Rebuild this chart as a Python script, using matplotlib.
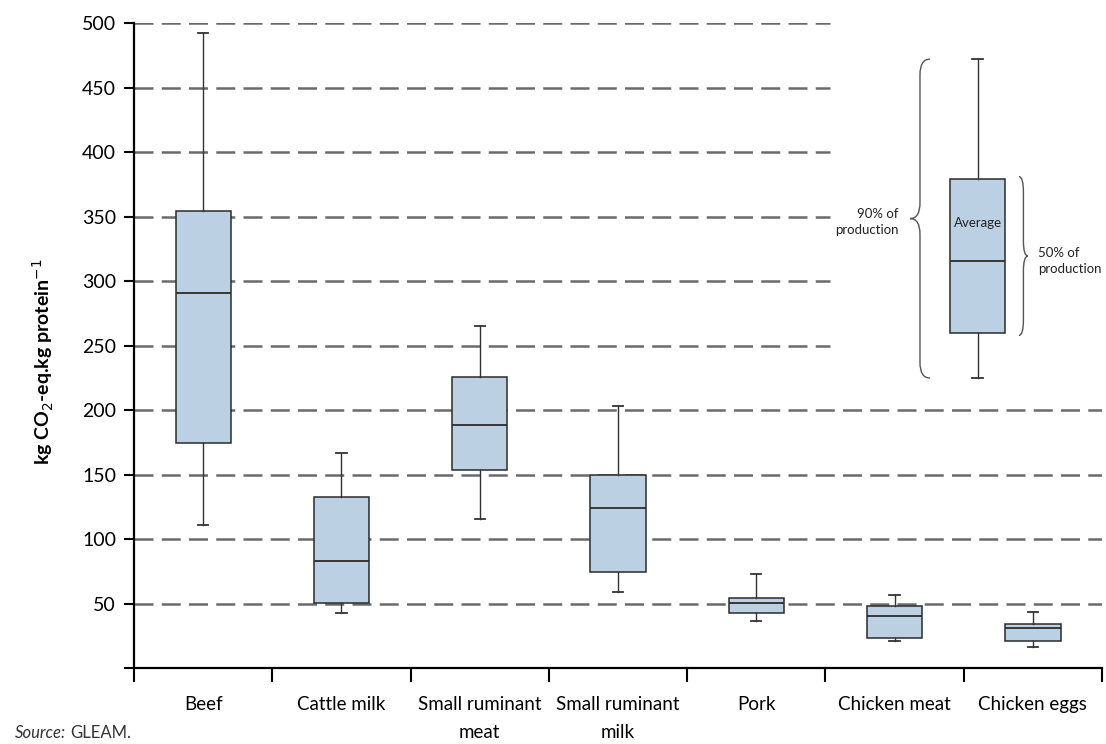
import matplotlib.pyplot as plt
from matplotlib.path import Path
from matplotlib.patches import PathPatch
from matplotlib.transforms import offset_copy

# Emission intensity per product (kg CO2-eq per kg protein)
categories = ['Beef', 'Cattle milk', 'Small ruminant\nmeat', 'Small ruminant\nmilk',
              'Pork', 'Chicken meat', 'Chicken eggs']
whisker_low = [111, 43, 116, 59, 37, 21.5, 17]
q1 = [175, 50.5, 154, 74.5, 43, 24, 21.3]
median = [291, 83, 188.5, 124, 51, 40.7, 31.6]
q3 = [354, 132.6, 226, 150, 54.4, 48.2, 34.2]
whisker_high = [492, 167, 265, 203, 73.4, 57, 43.8]

# explanatory key box
key_box = {'whislo': 225, 'q1': 260, 'med': 316, 'q3': 379, 'whishi': 472}

upper_grid = [250, 300, 350, 400, 450, 500]
lower_grid = [50, 100, 150, 200]

plt.rcParams['font.family'] = ['Lato', 'DejaVu Sans']

fill = '#bcd0e4'
edge = '#2b2b2b'

fig = plt.figure(figsize=(11.06, 7.44), dpi=100)
ax = fig.add_axes([0.1212, 0.1015, 0.8752, 0.8676])

stats = []
for i in range(len(categories)):
    stats.append({'whislo': whisker_low[i], 'q1': q1[i], 'med': median[i],
                  'q3': q3[i], 'whishi': whisker_high[i], 'fliers': []})
stats.append(dict(key_box, fliers=[]))
positions = list(range(len(categories))) + [5.6]

ax.bxp(stats, positions=positions, widths=0.4, patch_artist=True, showfliers=False,
       capwidths=0.075, manage_ticks=False,
       boxprops=dict(facecolor=fill, edgecolor=edge, linewidth=1.1),
       medianprops=dict(color=edge, linewidth=1.3),
       whiskerprops=dict(color='#333333', linewidth=1.0),
       capprops=dict(color='#333333', linewidth=1.3),
       zorder=3)

# dashed gridlines, shortened at the top so the key stays clear
dash = (0, (7.6, 3.3))
ax.hlines(upper_grid, -0.5, 4.53, colors='#6a6a6a', linewidth=1.8, linestyles=dash, zorder=1)
ax.hlines(lower_grid, -0.5, 6.5, colors='#6a6a6a', linewidth=1.8, linestyles=dash, zorder=1)


def brace(x_end, x_tip, y0, y1, d=12):
    xm = (x_end + x_tip) / 2
    ym = (y0 + y1) / 2
    verts = [(x_end, y1), (xm, y1), (xm, y1 - d), (xm, ym + d), (xm, ym), (x_tip, ym),
             (xm, ym), (xm, ym - d), (xm, y0 + d), (xm, y0), (x_end, y0)]
    codes = [Path.MOVETO, Path.CURVE3, Path.CURVE3, Path.LINETO, Path.CURVE3, Path.CURVE3,
             Path.CURVE3, Path.CURVE3, Path.LINETO, Path.CURVE3, Path.CURVE3]
    ax.add_patch(PathPatch(Path(verts, codes), facecolor='none', edgecolor='#555555',
                           linewidth=1.0, zorder=4))


brace(5.256, 5.111, key_box['whislo'], key_box['whishi'])
brace(5.899, 5.964, key_box['q1'] - 2, key_box['q3'] + 2)
ax.text(5.03, (key_box['whislo'] + key_box['whishi']) / 2 - 3, '90% of\nproduction',
        ha='right', va='center', fontsize=9.5, color='#222222', linespacing=1.4)
ax.text(6.04, (key_box['q1'] + key_box['q3']) / 2 - 4, '50% of\nproduction',
        ha='left', va='center', fontsize=9.5, color='#222222', linespacing=1.4)
ax.text(5.6, 345, 'Average', ha='center', va='center', fontsize=9.5, color='#222222', zorder=5)

ax.set_xlim(-0.5, 6.5)
ax.set_ylim(0, 500)

ax.set_yticks(range(0, 501, 50))
ax.set_yticklabels([''] + [str(v) for v in range(50, 501, 50)])
ax.tick_params(axis='y', direction='out', length=7, width=1.5, labelsize=14, pad=6)

# category boundaries get the tick marks, centres get the labels
ax.set_xticks([i - 0.5 for i in range(len(categories) + 1)])
ax.set_xticklabels([])
ax.set_xticks(range(len(categories)), minor=True)
ax.set_xticklabels(categories, minor=True, fontsize=13.5, va='top', linespacing=1.75)
ax.tick_params(axis='x', which='major', direction='out', length=10, width=1.5)
ax.tick_params(axis='x', which='minor', length=0, pad=20)

for side in ['top', 'right']:
    ax.spines[side].set_visible(False)
for side in ['left', 'bottom']:
    ax.spines[side].set_linewidth(1.6)

ax.set_ylabel('kg CO$_2$-eq.kg protein$^{-1}$', fontsize=14, fontweight='bold')
ax.yaxis.set_label_coords(-0.081, 0.475)

# source note: italic "Source:" followed by upright text
src = fig.text(15 / 1106, 1 - 733 / 744, 'Source:', fontsize=12, style='italic',
               color='#333333', va='center', ha='left')
fig.canvas.draw()
src_w = src.get_window_extent().width
fig.text(15 / 1106, 1 - 733 / 744, 'GLEAM.', fontsize=12, color='#333333', va='center',
         ha='left', transform=offset_copy(fig.transFigure, fig=fig, x=src_w + 4, units='dots'))

fig.savefig('out.png', dpi=100)
